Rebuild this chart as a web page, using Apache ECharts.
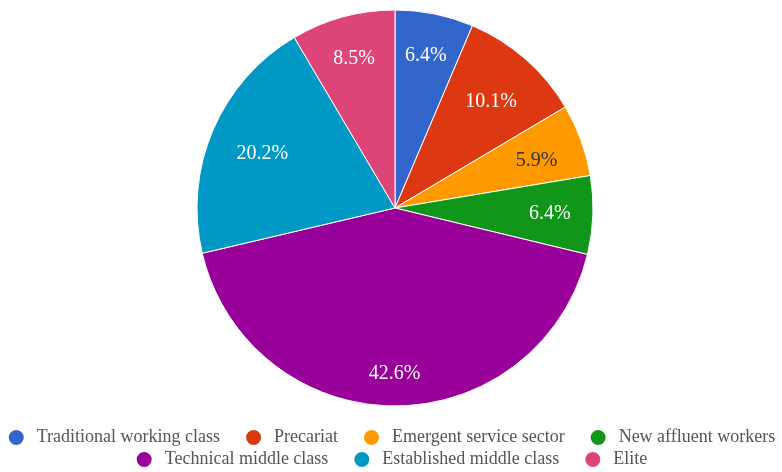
<!DOCTYPE html>
<html>
<head>
<meta charset="utf-8">
<script src="https://cdn.jsdelivr.net/npm/echarts@6/dist/echarts.min.js"></script>
<style>html,body{margin:0;padding:0;background:#fff}#c{width:782px;height:472px}
.fl{position:absolute;left:-9999px;top:0;font-family:"Liberation Serif";}</style>
</head>
<body>
<span class="fl">Font preload 0123456789%</span>
<div id="c"></div>
<script>
const categories = ["Traditional working class","Precariat","Emergent service sector","New affluent workers","Technical middle class","Established middle class","Elite"];
const values = [6.4, 10.1, 5.9, 6.4, 42.6, 20.2, 8.5];
const colors = ["#3366cc","#dc3912","#ff9900","#109618","#990099","#0099c6","#dd4477"];

const FONT = '"Liberation Serif", "DejaVu Serif", serif';
const center = [395, 208];
const R = 198;

// label nudges (px) to mimic the reference's label placement: [dx, dy]
const nudges = { "Precariat": [-6, 10], "Emergent service sector": [-4, 6], "Technical middle class": [0, 11], "Established middle class": [10, 7] };

const mainData = categories.map((n, i) => ({ name: n, value: values[i], itemStyle: { color: colors[i] } }));
const labelData = categories.map((n, i) => ({
  name: n, value: values[i],
  label: { color: n === "Emergent service sector" ? "#333" : "#fff", offset: nudges[n] || [0, 0] }
}));

const legendCommon = { left: 'center', width: 780, padding: 0, itemGap: 24, icon: 'circle', itemWidth: 17, itemHeight: 17,
  textStyle: { fontFamily: FONT, fontSize: 18, color: '#555', padding: [0, 0, 0, 7] } };

function render() {
  const el = document.getElementById('c');
  const old = echarts.getInstanceByDom(el);
  if (old) old.dispose();
  const chart = echarts.init(el, null, { renderer: 'canvas' });
  chart.setOption({
    animation: false,
    backgroundColor: '#fff',
    color: colors,
    legend: [
      Object.assign({ data: categories.slice(0, 4), top: 428 }, legendCommon),
      Object.assign({ data: categories.slice(4), top: 450 }, legendCommon)
    ],
    series: [
      {
        type: 'pie', center: center, radius: [0, R], startAngle: 90, clockwise: true,
        data: mainData, label: { show: false }, labelLine: { show: false },
        itemStyle: { borderColor: '#fff', borderWidth: 1 },
        emphasis: { disabled: true }
      },
      {
        type: 'pie', center: center, radius: [140, 164], startAngle: 90, clockwise: true, silent: true,
        data: labelData,
        itemStyle: { color: 'rgba(0,0,0,0)' },
        label: { show: true, position: 'inside', formatter: '{c}%', fontFamily: FONT, fontSize: 20, color: '#fff' },
        labelLine: { show: false },
        emphasis: { disabled: true }
      }
    ]
  });
}
render();
if (document.fonts && document.fonts.load) {
  Promise.all([document.fonts.load('20px "Liberation Serif"'), document.fonts.load('18px "Liberation Serif"')])
    .then(render, render);
}
</script>
</body>
</html>
